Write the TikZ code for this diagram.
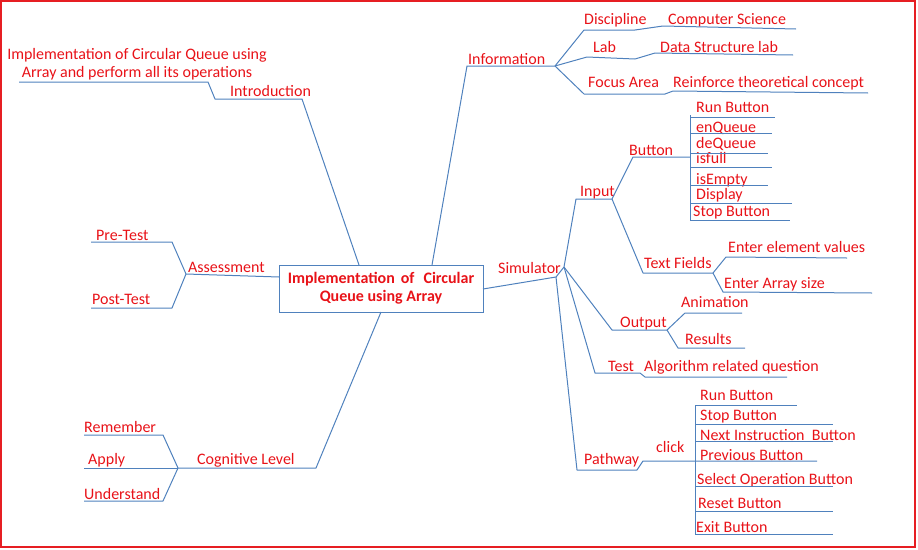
\documentclass[tikz,border=0pt]{standalone}
\usepackage{fontspec}
\setmainfont{Carlito}
\definecolor{txtred}{RGB}{232,18,24}
\definecolor{lnblue}{RGB}{79,129,189}
\definecolor{frame}{RGB}{230,30,35}
\tikzset{
  lbl/.style={font=\fontsize{16}{19}\selectfont, text=txtred, inner sep=0pt, anchor=base west},
  conn/.style={draw=lnblue, line width=1pt, line join=round}
}
\begin{document}
\begin{tikzpicture}[x=1pt,y=-1pt]
\useasboundingbox (0,0) rectangle (918,549);
\draw[frame, line width=2pt] (1,1) rectangle (915,547);

% central box
\node[draw=lnblue, line width=1pt, minimum width=204pt, minimum height=47pt, inner sep=0pt,
      font=\fontsize{16}{18}\selectfont\bfseries, text=txtred, align=center]
  (box) at (381,288.5) {Implementation\hspace{6pt}of\hspace{9pt}Circular\\Queue using Array};
\coordinate (bIntro) at (359,265);
\coordinate (bInfo) at (432,265);
\coordinate (bAss) at (279,277);
\coordinate (bSim) at (483,289);
\coordinate (bCog) at (381,312);

% ---------- Introduction ----------
\node[font=\fontsize{16}{18}\selectfont, text=txtred, inner sep=0pt, align=center] (introtxt) at (137,64)
  {Implementation of Circular Queue using\\Array and perform all its operations};
\node[lbl] (intro) at (230,96) {Introduction};
\coordinate (i0) at (19,82); \coordinate (i1) at (208,82);
\coordinate (i2) at (215,99); \coordinate (i3) at (302,99);
\draw[conn] (i0) -- (i1) -- (i2) -- (i3) -- (bIntro);

% ---------- Information ----------
\node[lbl] (info) at (468,64) {Information};
\coordinate (inf0) at (467,66); \coordinate (inf1) at (555,66);
\draw[conn] (bInfo) -- (inf0) -- (inf1);

\node[lbl] (disc) at (584,24) {Discipline};
\node[lbl] (cs) at (668,24) {Computer Science};
\coordinate (d0) at (584,30); \coordinate (d1) at (635,30);
\coordinate (d2) at (663,26); \coordinate (d3) at (796,29);
\draw[conn] (inf1) -- (d0) -- (d1) -- (d2) -- (d3);

\node[lbl] (lab) at (593,52) {Lab};
\node[lbl] (dsl) at (660,52) {Data Structure lab};
\coordinate (l0) at (587,57); \coordinate (l1) at (635,59);
\coordinate (l2) at (655,53); \coordinate (l3) at (793,55);
\draw[conn] (inf1) -- (l0) -- (l1) -- (l2) -- (l3);

\node[lbl] (focus) at (588,87) {Focus Area};
\node[lbl] (reinf) at (673,87) {Reinforce theoretical concept};
\coordinate (f0) at (584,94); \coordinate (f1) at (665,94);
\coordinate (f2) at (673,91); \coordinate (f3) at (868,93);
\draw[conn] (inf1) -- (f0) -- (f1) -- (f2) -- (f3);

% ---------- Simulator ----------
\node[lbl] (sim) at (498,273) {Simulator};
\coordinate (s0) at (556,277); \coordinate (s1) at (564,267);
\draw[conn] (bSim) -- (s0) -- (s1);

% Input
\node[lbl] (input) at (580,196) {Input};
\coordinate (in0) at (576,199); \coordinate (in1) at (612,199);
\draw[conn] (s1) -- (in0) -- (in1);

\node[lbl] (button) at (629,155) {Button};
\coordinate (bt0) at (633,157); \coordinate (bt1) at (690,157);
\coordinate (btTop) at (690,115); \coordinate (btBot) at (690,221);
\draw[conn] (in1) -- (bt0) -- (bt1);
\draw[conn] (btTop) -- (btBot);

\node[lbl] (b1) at (696,112) {Run Button};
\node[lbl] (b2) at (696,132) {enQueue};
\node[lbl] (b3) at (696,148) {deQueue};
\node[lbl] (b4) at (696,163) {isfull};
\node[lbl] (b5) at (696,184) {isEmpty};
\node[lbl] (b6) at (696,199) {Display};
\node[lbl] (b7) at (693,216) {Stop Button};
\coordinate (b1a) at (690,117); \coordinate (b1b) at (775,117);
\coordinate (b2a) at (690,133); \coordinate (b2b) at (772,133);
\coordinate (b3a) at (690,153); \coordinate (b3b) at (768,153);
\coordinate (b4a) at (690,167); \coordinate (b4b) at (772,167);
\coordinate (b5a) at (690,185); \coordinate (b5b) at (768,185);
\coordinate (b6a) at (690,203); \coordinate (b6b) at (792,203);
\coordinate (b7a) at (690,220); \coordinate (b7b) at (790,220);
\foreach \k in {1,...,7} {\draw[conn] (b\k a) -- (b\k b);}

\node[lbl] (tf) at (644,268) {Text Fields};
\coordinate (tf0) at (643,273); \coordinate (tf1) at (713,273);
\draw[conn] (in1) -- (tf0) -- (tf1);
\node[lbl] (ev) at (728,252) {Enter element values};
\coordinate (ev0) at (726,257); \coordinate (ev1) at (847,258);
\draw[conn] (tf1) -- (ev0) -- (ev1);
\node[lbl] (as) at (724,288) {Enter Array size};
\coordinate (as0) at (723,292); \coordinate (as1) at (872,293);
\draw[conn] (tf1) -- (as0) -- (as1);

% Output
\node[lbl] (output) at (620,327) {Output};
\coordinate (o0) at (612,330); \coordinate (o1) at (667,330);
\draw[conn] (s1) -- (o0) -- (o1);
\node[lbl] (anim) at (681,307) {Animation};
\coordinate (an0) at (685,313); \coordinate (an1) at (742,313);
\draw[conn] (o1) -- (an0) -- (an1);
\node[lbl] (res) at (685,344) {Results};
\coordinate (r0) at (678,348); \coordinate (r1) at (745,348);
\draw[conn] (o1) -- (r0) -- (r1);

% Test
\node[lbl] (test) at (608,371) {Test};
\node[lbl] (alg) at (644,371) {Algorithm related question};
\coordinate (t0) at (595,373); \coordinate (t1) at (640,373);
\coordinate (t2) at (645,377); \coordinate (t3) at (787,377);
\draw[conn] (s1) -- (t0) -- (t1) -- (t2) -- (t3);

% Pathway
\node[lbl] (path) at (584,464) {Pathway};
\node[lbl] (click) at (656,452) {click};
\coordinate (p0) at (577,470); \coordinate (p1) at (637,470);
\coordinate (p2) at (643,461); \coordinate (p3) at (817,461);
\draw[conn] (s0) -- (p0) -- (p1) -- (p2) -- (p3);
\coordinate (pTop) at (695,405); \coordinate (pBot) at (695,534);
\draw[conn] (pTop) -- (pBot);

\node[lbl] (q1) at (700,400) {Run Button};
\node[lbl] (q2) at (700,420) {Stop Button};
\node[lbl] (q3) at (700,440) {Next Instruction\ \ Button};
\node[lbl] (q4) at (700,460) {Previous Button};
\node[lbl] (q5) at (697,484) {Select Operation Button};
\node[lbl] (q6) at (698,508) {Reset Button};
\node[lbl] (q7) at (696,532) {Exit Button};
\coordinate (q1a) at (695,405); \coordinate (q1b) at (797,405);
\coordinate (q2a) at (695,424); \coordinate (q2b) at (833,424);
\coordinate (q3a) at (695,441); \coordinate (q3b) at (833,441);
\coordinate (q5a) at (695,486); \coordinate (q5b) at (833,486);
\coordinate (q6a) at (695,511); \coordinate (q6b) at (833,511);
\coordinate (q7a) at (695,534); \coordinate (q7b) at (833,534);
\foreach \k in {1,2,3,5,6,7} {\draw[conn] (q\k a) -- (q\k b);}

% ---------- Assessment ----------
\node[lbl] (ass) at (188,272) {Assessment};
\coordinate (a0) at (186,274);
\draw[conn] (bAss) -- (a0);
\node[lbl] (pre) at (96,240) {Pre-Test};
\coordinate (pt0) at (91,242); \coordinate (pt1) at (172,242);
\draw[conn] (pt0) -- (pt1) -- (a0);
\node[lbl] (post) at (92,304) {Post-Test};
\coordinate (po0) at (91,308); \coordinate (po1) at (172,308);
\draw[conn] (po0) -- (po1) -- (a0);

% ---------- Cognitive Level ----------
\node[lbl] (cog) at (197,464) {Cognitive Level};
\coordinate (cl0) at (178,468); \coordinate (cl1) at (316,468);
\draw[conn] (bCog) -- (cl1) -- (cl0);
\node[lbl] (rem) at (84,432) {Remember};
\coordinate (re0) at (84,435); \coordinate (re1) at (163,435);
\draw[conn] (re0) -- (re1) -- (cl0);
\node[lbl] (app) at (88,464) {Apply};
\coordinate (ap0) at (84,468);
\draw[conn] (ap0) -- (cl0);
\node[lbl] (und) at (84,499) {Understand};
\coordinate (un0) at (84,501); \coordinate (un1) at (163,501);
\draw[conn] (un0) -- (un1) -- (cl0);
\end{tikzpicture}
\end{document}
